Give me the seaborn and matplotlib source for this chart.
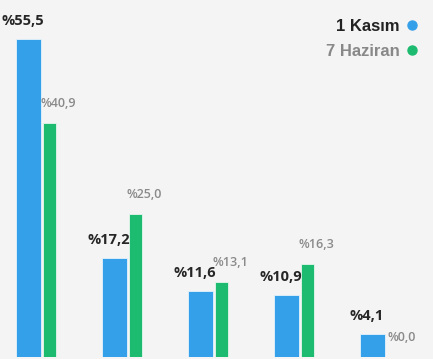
import numpy as np
import pandas as pd
import seaborn as sns
import matplotlib
matplotlib.use("Agg")
import matplotlib.pyplot as plt
from matplotlib.lines import Line2D

# ---- data ----
groups = ["A", "B", "C", "D", "E"]
kasim = [55.5, 17.2, 11.6, 10.9, 4.1]
haziran = [40.9, 25.0, 13.1, 16.3, 0.0]
series_names = ["1 Kasım", "7 Haziran"]

BLUE = "#35a0ea"
GREEN = "#1dbb6f"
BG = "#f4f4f4"

sns.set_theme(style="white")
plt.rcParams["font.family"] = ["Open Sans", "DejaVu Sans"]

W, H = 433, 359
fig = plt.figure(figsize=(W / 100, H / 100), dpi=100, facecolor=BG)
ax = fig.add_axes([0, 2 / H, 1, 357 / H])
ax.set_facecolor(BG)

idx = np.arange(len(groups))
off = 21 / 86
df_k = pd.DataFrame({"x": idx.astype(float), "v": kasim})
df_h = pd.DataFrame({"x": idx + off, "v": haziran})

sns.barplot(data=df_k, x="x", y="v", native_scale=True, width=0.30,
            color=BLUE, saturation=1, edgecolor="#e6f2fb", linewidth=0.6, ax=ax)
sns.barplot(data=df_h, x="x", y="v", native_scale=True, width=0.15,
            color=GREEN, saturation=1, edgecolor="#e6f5ee", linewidth=0.6, ax=ax)

px_per_unit = 5.73
ax.set_xlim(-28.5 / 86, (W - 28.5) / 86)
ax.set_ylim(0, 357 / px_per_unit)
ax.axis("off")

for i, v in enumerate(kasim):
    ax.annotate(f"%{v:.1f}".replace(".", ","), (i - 0.07, v), xytext=(0, 14),
                textcoords="offset pixels", ha="center", va="baseline",
                fontsize=10.5, fontweight="bold", color="#262626")
for i, v in enumerate(haziran):
    ax.annotate(f"%{v:.1f}".replace(".", ","), (i + off + 0.1, v), xytext=(0, 16),
                textcoords="offset pixels", ha="center", va="baseline",
                fontsize=9, fontweight="semibold", color="#8a8a8a")

handles = [Line2D([], [], marker="o", linestyle="", markersize=6.5,
                  markerfacecolor=c, markeredgecolor=c) for c in (BLUE, GREEN)]
leg = ax.legend(handles, series_names, loc="upper right", markerfirst=False,
                frameon=False, bbox_to_anchor=(419 / W, 1 - 19 / 357),
                prop={"family": "Liberation Sans", "weight": "bold", "size": 12},
                labelcolor=["#222222", "#888888"], handletextpad=0.35,
                labelspacing=0.6, borderaxespad=0, borderpad=0, handlelength=0.8)

fig.savefig("out.png", dpi=100, facecolor=BG)
